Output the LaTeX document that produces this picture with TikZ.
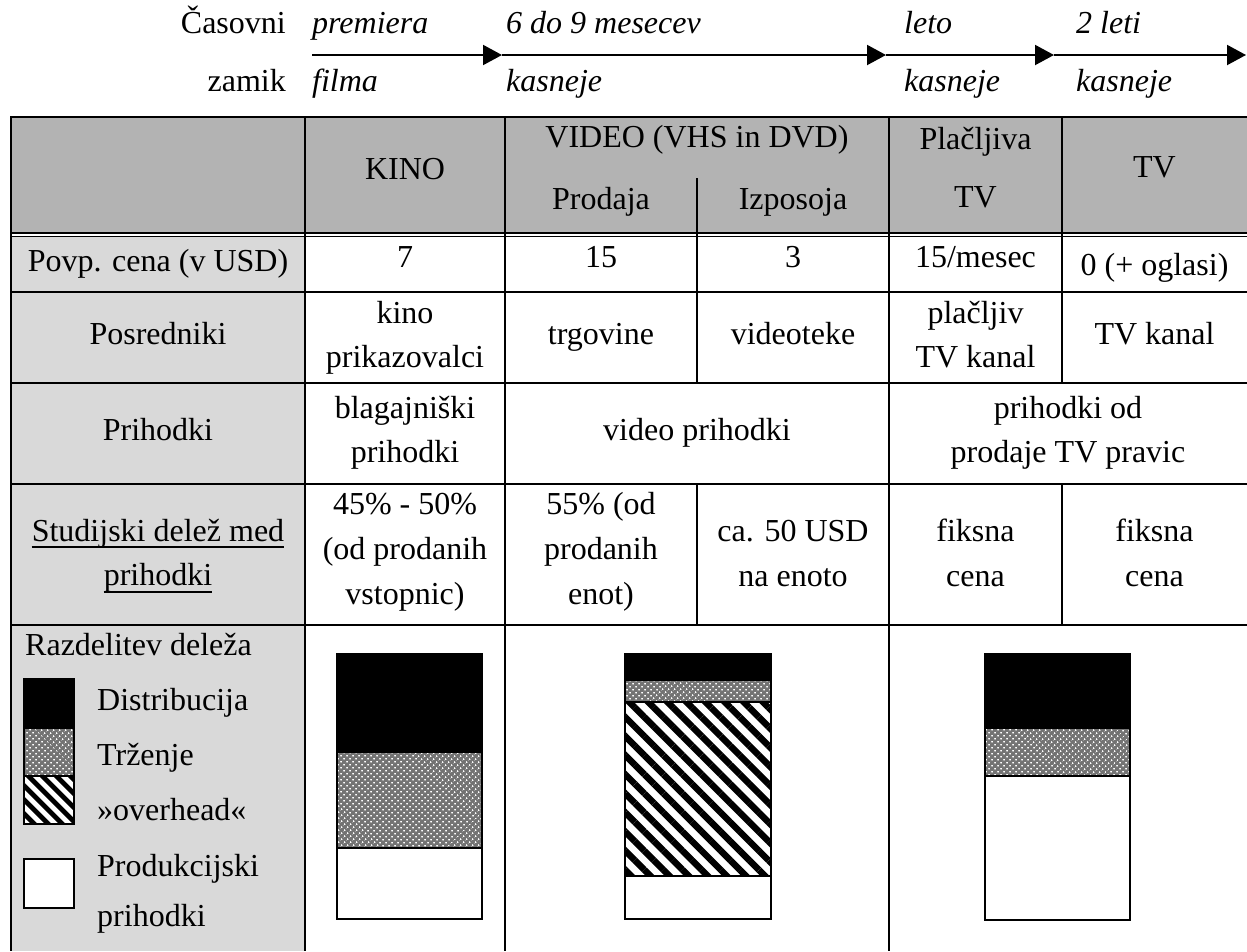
\documentclass[tikz,border=0pt]{standalone}
\usepackage{fontspec}
\setmainfont{Liberation Serif}
\usetikzlibrary{arrows.meta,patterns.meta}
\definecolor{hdrgray}{RGB}{179,179,179}
\definecolor{lblgray}{RGB}{217,217,217}
\begin{document}
\begin{tikzpicture}[x=1pt,y=-1pt,
  txt/.style={font=\fontsize{32}{44}\selectfont, inner sep=0pt, anchor=base},
  ltxt/.style={txt, anchor=base west},
  itxt/.style={font=\fontsize{32}{44}\selectfont\itshape, inner sep=0pt, anchor=base west},
  tline/.style={line width=2pt},
  tarrow/.style={line width=2pt, -{Triangle[length=19pt,width=20pt]}},
  seg/.style={draw=black, line width=1.5pt},
  blk/.style={seg, fill=black},
  crs/.style={seg, preaction={fill=black!55}, pattern={Dots[distance=4pt,radius=1.1pt,angle=45]}, pattern color=white},
  strb/.style={seg, preaction={fill=white}, pattern={Lines[angle=-45,distance=13.5pt,line width=6.5pt]}, pattern color=black},
  strl/.style={seg, preaction={fill=white}, pattern={Lines[angle=-45,distance=10.5pt,line width=5.2pt]}, pattern color=black},
  wht/.style={seg, fill=white},
  uline/.style={line width=1.5pt}
]
\useasboundingbox (0,0) rectangle (1247,951);

% ---------- time axis ----------
\coordinate (t0) at (312,55);
\coordinate (t1) at (502,55);
\coordinate (t2) at (886,55);
\coordinate (t3) at (1054,55);
\coordinate (t4) at (1246,55);
\draw[tarrow] (t0) -- (t1);
\draw[tarrow] (t1) -- (t2);
\draw[tarrow] (t2) -- (t3);
\draw[tarrow] (t3) -- (t4);

\node[txt, anchor=base east] (cas) at (286,33) {Časovni};
\node[txt, anchor=base east] (zam) at (286,91) {zamik};
\node[itxt] (p1) at (312,33) {premiera};
\node[itxt] (p2) at (312,91) {filma};
\node[itxt] (v1) at (506,33) {6 do 9 mesecev};
\node[itxt] (v2) at (506,91) {kasneje};
\node[itxt] (l1) at (904,33) {leto};
\node[itxt] (l2) at (904,91) {kasneje};
\node[itxt] (d1) at (1076,33) {2 leti};
\node[itxt] (d2) at (1076,91) {kasneje};

% ---------- table fills ----------
\fill[hdrgray] (11,117) rectangle (1247,233);
\fill[lblgray] (11,237) rectangle (305,951);

% ---------- table lines ----------
\draw[line width=2.5pt] (10,117) -- (1247,117);
\draw[tline] (10,233) -- (1247,233);
\draw[line width=1.5pt] (10,236.5) -- (1247,236.5);
\draw[tline] (10,292) -- (1247,292);
\draw[tline] (10,383) -- (1247,383);
\draw[tline] (10,484) -- (1247,484);
\draw[tline] (10,625) -- (1247,625);

\draw[line width=2.5pt] (11,116) -- (11,951);
\draw[tline] (305,117) -- (305,951);
\draw[tline] (505,117) -- (505,951);
\draw[tline] (889,117) -- (889,951);
\draw[tline] (697,178) -- (697,383);
\draw[tline] (697,484) -- (697,625);
\draw[tline] (1062,117) -- (1062,383);
\draw[tline] (1062,484) -- (1062,625);

% ---------- header ----------
\node[txt] (hkino) at (405,179) {KINO};
\node[txt] (hvideo) at (697,147) {VIDEO (VHS in DVD)};
\node[txt] (hprod) at (601,209) {Prodaja};
\node[txt] (hizp) at (793,209) {Izposoja};
\node[txt] (hpl1) at (975.5,149) {Plačljiva};
\node[txt] (hpl2) at (975.5,207) {TV};
\node[txt] (htv) at (1154.5,177) {TV};

% ---------- row 1 ----------
\node[txt] (r1l) at (158,271) {Povp. cena (v USD)};
\node[txt] (r1a) at (405,267) {7};
\node[txt] (r1b) at (601,267) {15};
\node[txt] (r1c) at (793,267) {3};
\node[txt] (r1d) at (975.5,267) {15/mesec};
\node[txt] (r1e) at (1154.5,275) {0 (+ oglasi)};

% ---------- row 2 ----------
\node[txt] (r2l) at (158,344) {Posredniki};
\node[txt] (r2a1) at (405,323) {kino};
\node[txt] (r2a2) at (405,367) {prikazovalci};
\node[txt] (r2b) at (601,344) {trgovine};
\node[txt] (r2c) at (793,344) {videoteke};
\node[txt] (r2d1) at (975.5,323) {plačljiv};
\node[txt] (r2d2) at (975.5,367) {TV kanal};
\node[txt] (r2e) at (1154.5,344) {TV kanal};

% ---------- row 3 ----------
\node[txt] (r3l) at (158,440) {Prihodki};
\node[txt] (r3a1) at (405,418) {blagajniški};
\node[txt] (r3a2) at (405,462) {prihodki};
\node[txt] (r3b) at (697,440) {video prihodki};
\node[txt] (r3c1) at (1068,418) {prihodki od};
\node[txt] (r3c2) at (1068,462) {prodaje TV pravic};

% ---------- row 4 ----------
\node[txt] (r4l1) at (158,541) {Studijski delež med};
\node[txt] (r4l2) at (158,585) {prihodki};
\draw[uline] ([yshift=-6pt]r4l1.base west) -- ([yshift=-6pt]r4l1.base east);
\draw[uline] ([yshift=-7pt]r4l2.base west) -- ([yshift=-7pt]r4l2.base east);
\node[txt] (r4a1) at (405,514) {45\% - 50\%};
\node[txt] (r4a2) at (405,559) {(od prodanih};
\node[txt] (r4a3) at (405,604) {vstopnic)};
\node[txt] (r4b1) at (601,514) {55\% (od};
\node[txt] (r4b2) at (601,559) {prodanih};
\node[txt] (r4b3) at (601,604) {enot)};
\node[txt] (r4c1) at (793,541) {ca. 50 USD};
\node[txt] (r4c2) at (793,586) {na enoto};
\node[txt] (r4d1) at (975.5,541) {fiksna};
\node[txt] (r4d2) at (975.5,586) {cena};
\node[txt] (r4e1) at (1154.5,541) {fiksna};
\node[txt] (r4e2) at (1154.5,586) {cena};

% ---------- row 5: legend ----------
\node[ltxt] (lgt) at (25,655) {Razdelitev deleža};
\path[blk] (24,679) rectangle (74,728);
\path[crs] (24,728) rectangle (74,776);
\path[strl] (24,776) rectangle (74,824);
\path[wht] (24,859) rectangle (74,908);
\node[ltxt] (lg1) at (97,710) {Distribucija};
\node[ltxt] (lg2) at (97,765) {Trženje};
\node[ltxt] (lg3) at (97,820) {»overhead«};
\node[ltxt] (lg4) at (97,876) {Produkcijski};
\node[ltxt] (lg5) at (97,926) {prihodki};

% ---------- row 5: bars ----------
% KINO
\path[blk] (337,654) rectangle (482,752);
\path[crs] (337,752) rectangle (482,848);
\path[wht] (337,848) rectangle (482,919);
% VIDEO
\path[blk] (625,654) rectangle (771,680);
\path[crs] (625,680) rectangle (771,702);
\path[strb] (625,702) rectangle (771,876);
\path[wht] (625,876) rectangle (771,919);
% TV
\path[blk] (985,654) rectangle (1130,728);
\path[crs] (985,728) rectangle (1130,776);
\path[wht] (985,776) rectangle (1130,920);
\end{tikzpicture}
\end{document}
